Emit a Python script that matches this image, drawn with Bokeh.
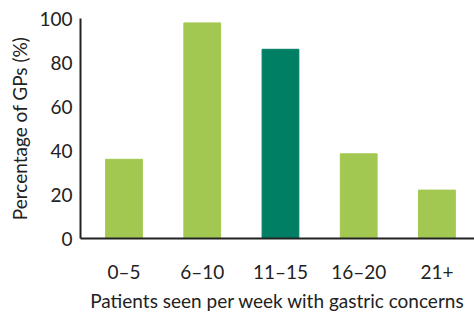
from bokeh.plotting import figure
from bokeh.models import FixedTicker, Range1d
from bokeh.embed import file_html
from bokeh.resources import INLINE

categories = ["0–5", "6–10", "11–15", "16–20", "21+"]
values = [36, 98, 86, 38.5, 22]
colors = ["#A3C852", "#A3C852", "#007F64", "#A3C852", "#A3C852"]
y_ticks = [0, 20, 40, 60, 80, 100]

xs = list(range(len(categories)))

p = figure(width=474, height=314, output_backend="svg", toolbar_location=None,
           x_range=Range1d(-0.556, 4.48), y_range=Range1d(0, 100),
           min_border_left=80, min_border_right=0, min_border_top=18, min_border_bottom=75)
p.vbar(x=xs, top=values, width=0.47, color=colors)

font = "Lato"
p.xgrid.visible = False
p.ygrid.visible = False
p.outline_line_color = None

for ax in (p.xaxis, p.yaxis):
    ax.major_tick_line_color = None
    ax.minor_tick_line_color = None
    ax.major_tick_out = 0
    ax.major_tick_in = 0
    ax.minor_tick_out = 0
    ax.minor_tick_in = 0
    ax.axis_line_width = 2
    ax.axis_line_color = "#222222"
    ax.major_label_text_font = font
    ax.major_label_text_font_size = "19px"
    ax.major_label_text_color = "#222222"
    ax.major_label_text_line_height = 1.0
    ax.axis_label_text_font = font
    ax.axis_label_text_font_size = "19px"
    ax.axis_label_text_font_style = "normal"
    ax.axis_label_text_color = "#222222"
    ax.axis_label_text_line_height = 1.0

p.xaxis.ticker = FixedTicker(ticks=xs)
p.xaxis.major_label_overrides = {i: c for i, c in zip(xs, categories)}
p.xaxis.major_label_standoff = 21
p.xaxis.axis_label = "Patients seen per week with gastric concerns"
p.xaxis.axis_label_standoff = 3

p.yaxis.ticker = FixedTicker(ticks=y_ticks)
p.yaxis.major_label_standoff = 8
p.yaxis.axis_label = "Percentage of GPs (%)"
p.yaxis.axis_label_standoff = 5

open("out.html", "w").write(file_html(p, INLINE))
